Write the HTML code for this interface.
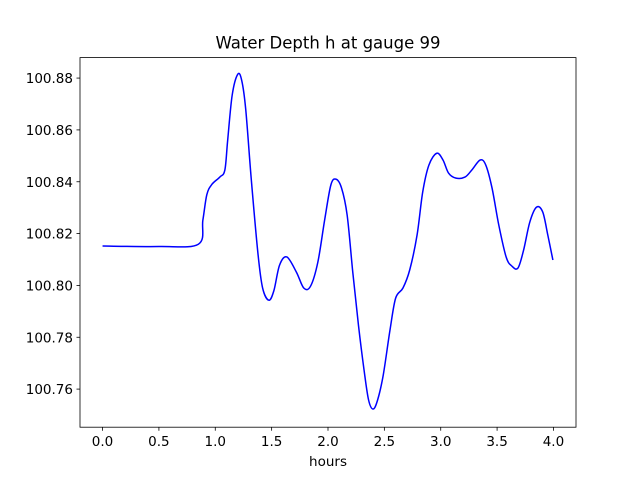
<!DOCTYPE html>
<html><head><meta charset="utf-8"><style>
body{margin:0;background:#fff}
svg text{font-family:"DejaVu Sans","Liberation Sans",sans-serif;fill:#000}
</style></head><body>
<svg id="chart" width="640" height="480" viewBox="0 0 640 480">
<rect width="640" height="480" fill="#fff"/>
<g id="plot"></g>
</svg>
<script>
const times=[0,0.5,0.85,0.89,0.925,0.97,1.04,1.085,1.11,1.15,1.2,1.235,1.27,1.32,1.38,1.42,1.475,1.52,1.57,1.635,1.72,1.785,1.845,1.91,1.97,2.025,2.07,2.12,2.17,2.22,2.27,2.32,2.36,2.4,2.44,2.49,2.55,2.6,2.665,2.725,2.79,2.84,2.895,2.965,3.02,3.07,3.135,3.215,3.275,3.35,3.4,3.455,3.515,3.58,3.63,3.685,3.735,3.79,3.85,3.905,3.95,3.995];
const depth=[100.8152,100.8150,100.8159,100.8252,100.835,100.839,100.8418,100.8445,100.856,100.8734,100.8815,100.879,100.868,100.8406,100.8117,100.799,100.7943,100.798,100.8078,100.811,100.8051,100.799,100.7997,100.809,100.8252,100.8387,100.841,100.8376,100.8271,100.805,100.7847,100.7673,100.7558,100.7523,100.7558,100.7654,100.7828,100.7951,100.799,100.806,100.8194,100.836,100.8464,100.851,100.8484,100.8433,100.8414,100.8418,100.8445,100.8484,100.8464,100.8376,100.8233,100.811,100.8075,100.8067,100.8136,100.8244,100.8302,100.8283,100.8194,100.8098];
const xTicks=[0,0.5,1,1.5,2,2.5,3,3.5,4];
const xTickLabels=["0.0","0.5","1.0","1.5","2.0","2.5","3.0","3.5","4.0"];
const yTicks=[100.76,100.78,100.80,100.82,100.84,100.86,100.88];
const yTickLabels=["100.76","100.78","100.80","100.82","100.84","100.86","100.88"];
const L=80,R=576,T=57.6,B=427.2;
const xMin=-0.2,xMax=4.2,yMin=100.7453,yMax=100.8879;
const sx=v=>L+(v-xMin)/(xMax-xMin)*(R-L);
const sy=v=>B-(v-yMin)/(yMax-yMin)*(B-T);
const NS="http://www.w3.org/2000/svg";
const g=document.getElementById('plot');
function mk(t,a,txt){const e=document.createElementNS(NS,t);for(const k in a)e.setAttribute(k,a[k]);if(txt!==undefined)e.textContent=txt;g.appendChild(e);return e;}
const P=times.map((t,i)=>[sx(t),sy(depth[i])]);
let d='M'+P[0][0].toFixed(2)+','+P[0][1].toFixed(2);
for(let i=0;i<P.length-1;i++){
 const p0=P[Math.max(i-1,0)],p1=P[i],p2=P[i+1],p3=P[Math.min(i+2,P.length-1)];
 const c1=[p1[0]+(p2[0]-p0[0])/6,p1[1]+(p2[1]-p0[1])/6];
 const c2=[p2[0]-(p3[0]-p1[0])/6,p2[1]-(p3[1]-p1[1])/6];
 d+=' C'+c1.map(v=>v.toFixed(2)).join(',')+' '+c2.map(v=>v.toFixed(2)).join(',')+' '+p2.map(v=>v.toFixed(2)).join(',');
}
const line=mk('path',{d:d,fill:'none',stroke:'#0000ff','stroke-width':1.5,'stroke-linejoin':'round'});


const frame=mk('rect',{x:L,y:T,width:R-L,height:B-T,fill:'none',stroke:'#000','stroke-width':0.8});


xTicks.forEach((v,i)=>{
 const x=sx(v);
 const tk=mk('line',{x1:x,x2:x,y1:B,y2:B+3.5,stroke:'#000','stroke-width':0.8});
 
 
 const tl=mk('text',{x:x,y:B+19,'text-anchor':'middle','font-size':13.5},xTickLabels[i]);
 
 
});
yTicks.forEach((v,i)=>{
 const y=sy(v);
 const tk=mk('line',{x1:L-3.5,x2:L,y1:y,y2:y,stroke:'#000','stroke-width':0.8});
 
 
 const tl=mk('text',{x:L-7,y:y+5,'text-anchor':'end','font-size':13.5},yTickLabels[i]);
 
 
});
const xt=mk('text',{x:(L+R)/2,y:B+39,'text-anchor':'middle','font-size':13.5},'hours');


const ti=mk('text',{x:(L+R)/2,y:T-9,'text-anchor':'middle','font-size':16.5},'Water Depth h at gauge 99');


</script>
</body></html>
